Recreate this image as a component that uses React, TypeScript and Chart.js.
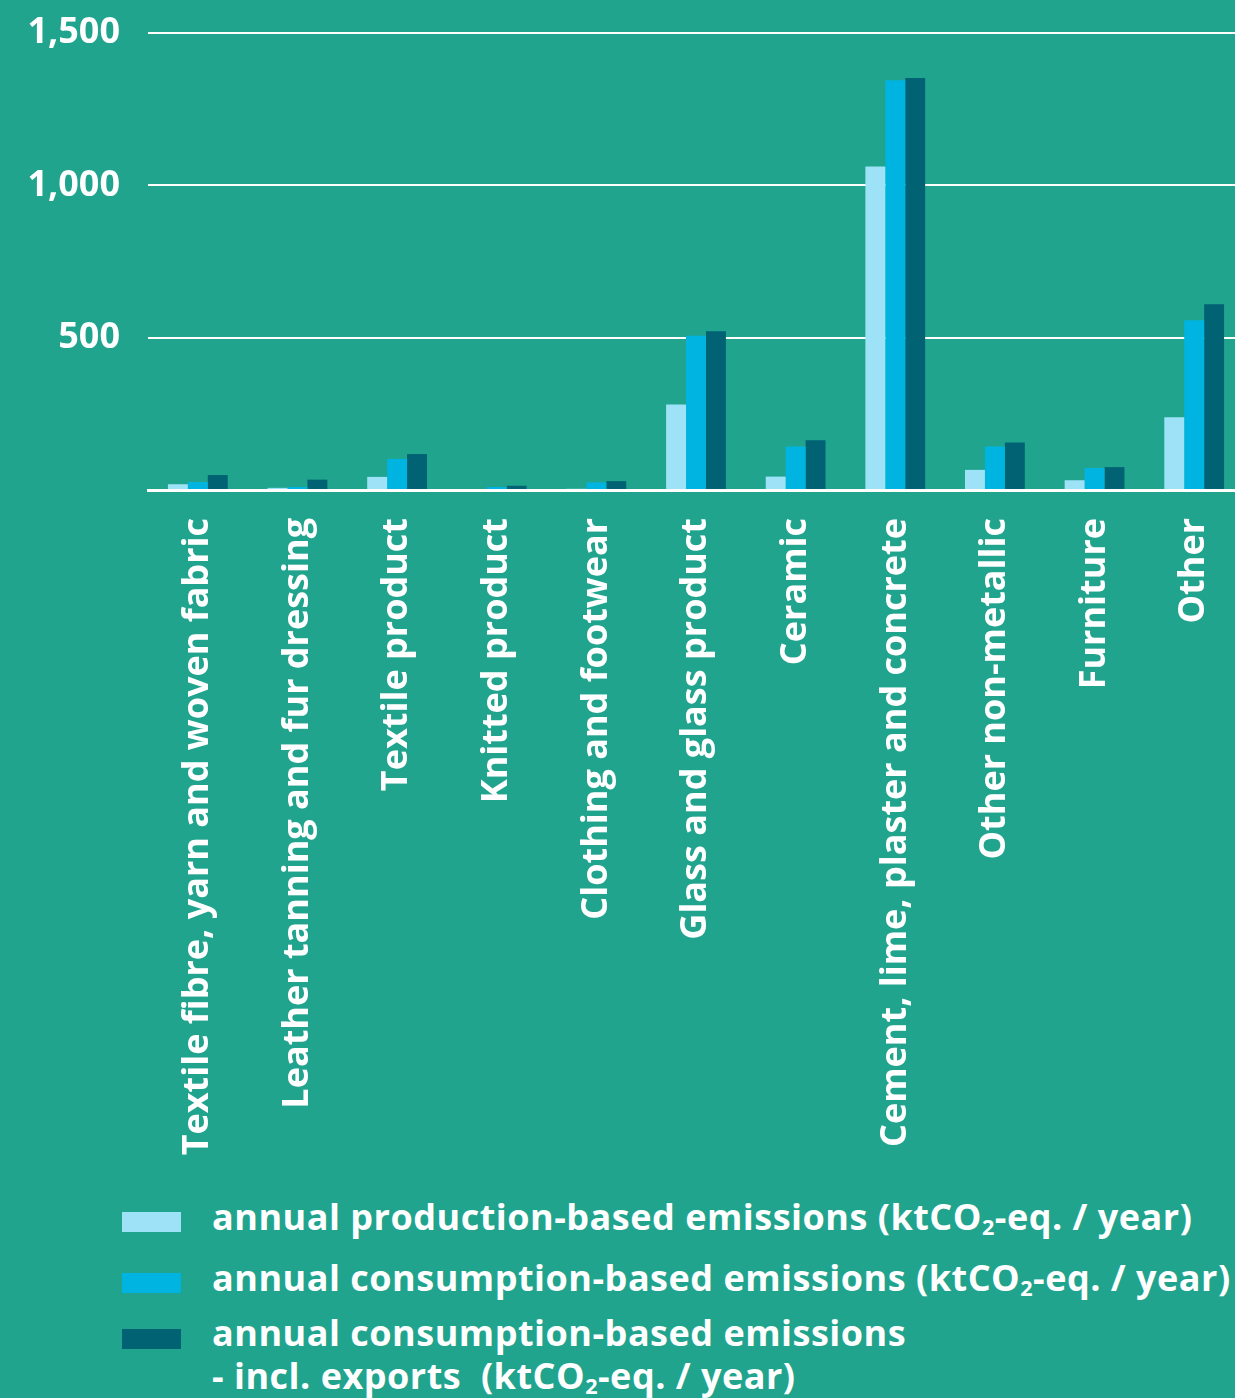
import React, { useEffect, useRef } from "react";
import { Chart, registerables } from "chart.js";

Chart.register(...registerables);

const categories = [
  "Textile fibre, yarn and woven fabric",
  "Leather tanning and fur dressing",
  "Textile product",
  "Knitted product",
  "Clothing and footwear",
  "Glass and glass product",
  "Ceramic",
  "Cement, lime, plaster and concrete",
  "Other non-metallic",
  "Furniture",
  "Other",
];

const productionBased = [19, 7, 43, 0, 4, 281, 44, 1062, 66, 32, 239];
const consumptionBased = [26, 10, 102, 10, 25, 506, 143, 1345, 143, 72, 557];
const consumptionInclExports = [49, 34, 118, 14, 29, 521, 163, 1352, 156, 75, 610];

const seriesLabels = [
  "annual production-based emissions (ktCO₂-eq. / year)",
  "annual consumption-based emissions (ktCO₂-eq. / year)",
  "annual consumption-based emissions - incl. exports (ktCO₂-eq. / year)",
];

const yTicks = [0, 500, 1000, 1500];

const BG = "#21A48E";
const COLORS = ["#9DE2F7", "#00B4E1", "#006273"];
const FONT = "'Open Sans', 'DejaVu Sans', sans-serif";

const CANVAS_W = 1244;
const CANVAS_H = 1175;

export default function App() {
  const ref = useRef<HTMLCanvasElement | null>(null);

  useEffect(() => {
    if (!ref.current) return;
    const chart = new Chart(ref.current, {
      type: "bar",
      data: {
        labels: categories,
        datasets: [
          { label: seriesLabels[0], data: productionBased, backgroundColor: COLORS[0] },
          { label: seriesLabels[1], data: consumptionBased, backgroundColor: COLORS[1] },
          { label: seriesLabels[2], data: consumptionInclExports, backgroundColor: COLORS[2] },
        ],
      },
      options: {
        animation: false,
        responsive: false,
        maintainAspectRatio: false,
        layout: { padding: { top: 33, right: 0, bottom: 0, left: 0 } },
        datasets: { bar: { categoryPercentage: 0.6, barPercentage: 1.0 } },
        plugins: { legend: { display: false }, tooltip: { enabled: false } },
        scales: {
          x: {
            grid: { display: false, drawTicks: false },
            border: { display: true, color: "#ffffff", width: 3 },
            ticks: {
              color: "#ffffff",
              font: { family: FONT, size: 36, weight: "bold" },
              minRotation: 90,
              maxRotation: 90,
              autoSkip: false,
              padding: 28,
            },
            afterFit: (scale: any) => {
              scale.height = CANVAS_H - 490;
              scale.paddingLeft = 0;
              scale.paddingRight = 0;
            },
          },
          y: {
            min: yTicks[0],
            max: yTicks[yTicks.length - 1],
            afterBuildTicks: (scale: any) => {
              scale.ticks = yTicks.map((v) => ({ value: v }));
            },
            grid: { color: "#ffffff", lineWidth: 2, drawTicks: false },
            border: { display: false },
            ticks: {
              color: "#ffffff",
              font: { family: FONT, size: 36, weight: "bold" },
              padding: 28,
              callback: (v: any) => (Number(v) === 0 ? "" : Number(v).toLocaleString("en-US")),
            },
            afterFit: (scale: any) => {
              scale.width = 148;
              scale.paddingTop = 0;
              scale.paddingBottom = 0;
            },
          },
        },
      },
    });
    return () => chart.destroy();
  }, []);

  const legendText: React.CSSProperties = {
    position: "absolute",
    left: 212,
    color: "#ffffff",
    fontFamily: FONT,
    fontWeight: 700,
    fontSize: 36,
    lineHeight: "42px",
    letterSpacing: "0.5px",
    whiteSpace: "nowrap",
  };
  const sub: React.CSSProperties = { fontSize: "0.6em", verticalAlign: "-0.25em", lineHeight: 0 };
  const swatch = (top: number, color: string): React.CSSProperties => ({
    position: "absolute",
    left: 122,
    top,
    width: 59,
    height: 20,
    background: color,
  });

  return (
    <div
      style={{
        position: "absolute",
        left: 0,
        top: 0,
        width: 1235,
        height: 1398,
        background: BG,
        overflow: "hidden",
      }}
    >
      <canvas ref={ref} width={CANVAS_W} height={CANVAS_H} style={{ display: "block" }} />
      <div style={swatch(1212, COLORS[0])} />
      <div style={swatch(1273, COLORS[1])} />
      <div style={swatch(1329, COLORS[2])} />
      <div style={{ ...legendText, top: 1196 }}>
        annual production-based emissions (ktCO<span style={sub}>2</span>-eq. / year)
      </div>
      <div style={{ ...legendText, top: 1257 }}>
        annual consumption-based emissions (ktCO<span style={sub}>2</span>-eq. / year)
      </div>
      <div style={{ ...legendText, top: 1312 }}>annual consumption-based emissions</div>
      <div style={{ ...legendText, top: 1355 }}>
        - incl. exports&nbsp; (ktCO<span style={sub}>2</span>-eq. / year)
      </div>
    </div>
  );
}
